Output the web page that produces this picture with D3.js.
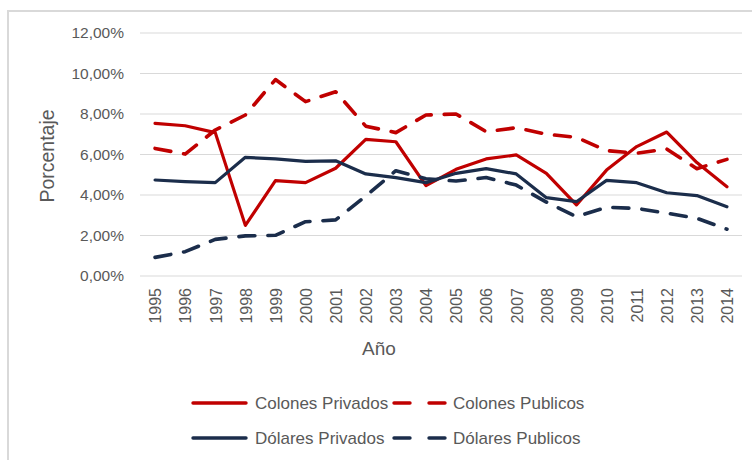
<!DOCTYPE html>
<html><head><meta charset="utf-8">
<script src="https://cdn.jsdelivr.net/npm/d3@7"></script>
<style>
html,body{margin:0;padding:0;background:#fff;}
svg{display:block;font-family:"Liberation Sans",Arial,sans-serif;}
</style></head>
<body><svg id="chart" width="752" height="460"></svg>
<script>
const years = ["1995","1996","1997","1998","1999","2000","2001","2002","2003","2004","2005","2006","2007","2008","2009","2010","2011","2012","2013","2014"];
const colonesPrivados = [7.54,7.42,7.08,2.50,4.71,4.61,5.32,6.75,6.63,4.46,5.27,5.78,5.98,5.07,3.51,5.23,6.39,7.11,5.60,4.41];
const colonesPublicos = [6.30,6.02,7.21,7.95,9.70,8.61,9.10,7.40,7.08,7.95,8.00,7.13,7.32,7.00,6.85,6.19,6.06,6.27,5.30,5.76];
const dolaresPrivados = [4.74,4.66,4.61,5.86,5.78,5.66,5.69,5.04,4.86,4.61,5.07,5.30,5.04,3.87,3.67,4.72,4.61,4.11,3.97,3.42];
const dolaresPublicos = [0.92,1.20,1.81,1.98,2.01,2.68,2.77,3.95,5.20,4.80,4.69,4.86,4.49,3.65,2.93,3.39,3.34,3.10,2.85,2.31];
const yTicks = [0,2,4,6,8,10,12];
const seriesNames = ["Colones Privados","Colones Publicos","Dólares Privados","Dólares Publicos"];

const red = "#C00000", navy = "#1B2D4B";
const series = [
  {name: seriesNames[0], values: colonesPrivados, color: red, dashed: false},
  {name: seriesNames[1], values: colonesPublicos, color: red, dashed: true},
  {name: seriesNames[2], values: dolaresPrivados, color: navy, dashed: false},
  {name: seriesNames[3], values: dolaresPublicos, color: navy, dashed: true}
];

const svg = d3.select("#chart");
const grey = "#595959";
const loc = d3.formatLocale({decimal: ",", thousands: ".", grouping: [3], currency: ["", ""]});
const fmt = v => loc.format(".2f")(v) + "%";

// outer frame
svg.append("rect").attr("x", 8).attr("y", 11).attr("width", 800).attr("height", 500)
  .attr("fill", "none").attr("stroke", "#D9D9D9").attr("stroke-width", 2);

const x = d3.scalePoint().domain(years).range([140, 742]).padding(0.5);
const y = d3.scaleLinear().domain([0, 12]).range([276, 33]);

// gridlines
svg.append("g").selectAll("line").data(yTicks).join("line")
  .attr("x1", 140).attr("x2", 742)
  .attr("y1", d => y(d)).attr("y2", d => y(d))
  .attr("stroke", "#D9D9D9").attr("stroke-width", 1);

// y axis labels
const yAxis = d3.axisLeft(y).tickValues(yTicks).tickFormat(fmt).tickSize(0).tickPadding(0);
const gy = svg.append("g").attr("transform", "translate(124,0)").call(yAxis);
gy.select(".domain").remove();
gy.selectAll("text").attr("fill", grey).attr("font-size", 15.5)
  .attr("font-family", "'Liberation Sans',Arial,sans-serif");

// x axis labels
const xAxis = d3.axisBottom(x).tickSize(0).tickPadding(0);
const gx = svg.append("g").attr("transform", "translate(0,287)").call(xAxis);
gx.select(".domain").remove();
gx.selectAll("text").attr("fill", grey).attr("font-size", 16)
  .attr("font-family", "'Liberation Sans Narrow','Arial Narrow','Liberation Sans',sans-serif")
  .attr("transform", "rotate(-90)")
  .attr("text-anchor", "end").attr("dy", "0.36em").attr("x", -1).attr("y", 0);

// axis titles
svg.append("text").attr("transform", "translate(54,156) rotate(-90)")
  .attr("text-anchor", "middle").attr("fill", grey).attr("font-size", 19.5)
  .text("Porcentaje");
svg.append("text").attr("x", 379).attr("y", 355)
  .attr("text-anchor", "middle").attr("fill", grey).attr("font-size", 19)
  .text("Año");

// lines
const line = d3.line().x((d, i) => x(years[i])).y(d => y(d));
svg.append("g").selectAll("path").data(series).join("path")
  .attr("d", d => line(d.values))
  .attr("fill", "none")
  .attr("stroke", d => d.color)
  .attr("stroke-width", d => d.dashed ? 3.6 : 3.2)
  .attr("stroke-linejoin", "round")
  .attr("stroke-linecap", "round")
  .attr("stroke-dasharray", d => d.dashed ? "16,13" : null);

// legend
const legendPos = [
  {lx: 193, tx: 255, cy: 403},
  {lx: 394, tx: 453, cy: 403},
  {lx: 193, tx: 255, cy: 438},
  {lx: 394, tx: 453, cy: 438}
];
const lg = svg.append("g").selectAll("g").data(series).join("g");
lg.append("path")
  .attr("d", (d, i) => `M${legendPos[i].lx},${legendPos[i].cy}H${legendPos[i].lx + 53}`)
  .attr("stroke", d => d.color).attr("stroke-width", 3.4)
  .attr("stroke-linecap", "round")
  .attr("stroke-dasharray", d => d.dashed ? "16,19" : null);
lg.append("text")
  .attr("x", (d, i) => legendPos[i].tx).attr("y", (d, i) => legendPos[i].cy)
  .attr("dy", "0.35em").attr("fill", grey).attr("font-size", 17)
  .text(d => d.name);
</script></body></html>
